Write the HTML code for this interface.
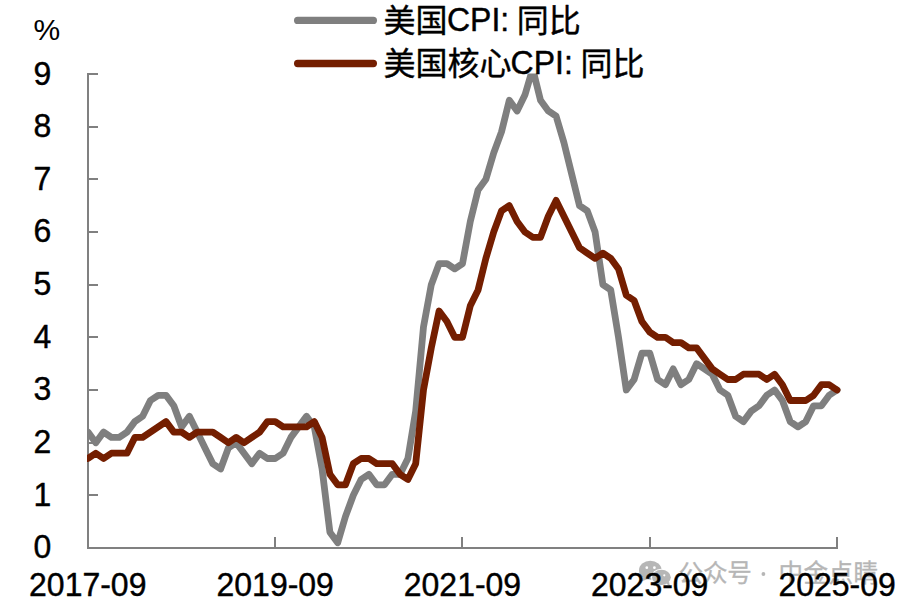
<!DOCTYPE html>
<html lang="zh"><head><meta charset="utf-8"><title>美国CPI: 同比</title>
<style>
html,body{margin:0;padding:0;background:#fff;}
body{width:906px;height:609px;overflow:hidden;font-family:"Liberation Sans",sans-serif;}
svg{display:block;}
</style></head><body>
<svg width="906" height="609" viewBox="0 0 906 609"><defs><clipPath id="plot"><rect x="87" y="73.4" width="780" height="500"/></clipPath></defs>
<g id="wm"><g fill="#b6b6b6"><ellipse cx="650.3" cy="570.3" rx="11.3" ry="9.5"/><path d="M643.0 577.0 L641.4 581.4 L647.8 578.9 Z"/></g><ellipse cx="661.4" cy="577.35" rx="10.5" ry="8.7" fill="#fff"/><g fill="#b6b6b6"><ellipse cx="661.4" cy="577.35" rx="9.4" ry="7.6"/><path d="M666.3 583.4 L670.0 586.4 L669.0 581.6 Z"/></g><g fill="#fff"><circle cx="646.8" cy="567.7" r="1.35"/><circle cx="654.4" cy="567.7" r="1.35"/><circle cx="658.5" cy="575.3" r="1.1"/><circle cx="664.3" cy="575.3" r="1.1"/></g><g font-family="'Liberation Sans', 'Noto Sans CJK SC', sans-serif" font-size="24.6" fill="#b6b6b6" stroke="#b6b6b6" stroke-width="0.3"><text x="678.50" y="582.40">公</text><text x="702.90" y="582.40">众</text><text x="727.30" y="582.40">号</text></g><circle cx="763.4" cy="574.0" r="1.9" fill="#b6b6b6"/><g font-family="'Liberation Sans', 'Noto Sans CJK SC', sans-serif" font-size="24.6" fill="#b6b6b6" stroke="#b6b6b6" stroke-width="0.3"><text x="778.60" y="582.40">中</text><text x="803.60" y="582.40">金</text><text x="828.60" y="582.40">点</text><text x="853.60" y="582.40">睛</text></g></g>
<g id="axes"><path d="M88.0 73.0 V548.0 H838.0" fill="none" stroke="#808080" stroke-width="2"/><path d="M88.0 495 H98.0" stroke="#808080" stroke-width="2"/><path d="M88.0 443 H98.0" stroke="#808080" stroke-width="2"/><path d="M88.0 390 H98.0" stroke="#808080" stroke-width="2"/><path d="M88.0 337 H98.0" stroke="#808080" stroke-width="2"/><path d="M88.0 285 H98.0" stroke="#808080" stroke-width="2"/><path d="M88.0 232 H98.0" stroke="#808080" stroke-width="2"/><path d="M88.0 179 H98.0" stroke="#808080" stroke-width="2"/><path d="M88.0 127 H98.0" stroke="#808080" stroke-width="2"/><path d="M88.0 74 H98.0" stroke="#808080" stroke-width="2"/><path d="M275 548.0 V537.0" stroke="#808080" stroke-width="2"/><path d="M462 548.0 V537.0" stroke="#808080" stroke-width="2"/><path d="M650 548.0 V537.0" stroke="#808080" stroke-width="2"/><path d="M837 548.0 V537.0" stroke="#808080" stroke-width="2"/></g>
<g clip-path="url(#plot)" fill="none" stroke-linejoin="round" stroke-linecap="round" stroke-width="6.8"><polyline stroke="#7f7f7f" points="88.0,432.1 95.8,442.7 103.6,432.1 111.4,437.4 119.2,437.4 127.0,432.1 134.8,421.6 142.6,416.3 150.4,400.5 158.2,395.3 166.0,395.3 173.8,405.8 181.6,426.9 189.4,416.3 197.2,432.1 205.0,447.9 212.8,463.7 220.6,469.0 228.4,447.9 236.2,442.7 244.0,453.2 251.8,463.7 259.6,453.2 267.4,458.5 275.2,458.5 283.1,453.2 290.9,437.4 298.7,426.9 306.5,416.3 314.3,426.9 322.1,469.0 329.9,532.2 337.7,542.7 345.5,516.4 353.3,495.3 361.1,479.5 368.9,474.3 376.7,484.8 384.5,484.8 392.3,474.3 400.1,474.3 407.9,458.5 415.7,411.1 423.5,326.8 431.3,284.7 439.1,263.6 446.9,263.6 454.7,268.9 462.5,263.6 470.3,221.5 478.1,189.9 485.9,179.3 493.7,153.0 501.5,131.9 509.3,100.3 517.1,110.9 524.9,95.1 532.7,68.7 540.5,100.3 548.3,110.9 556.1,116.1 563.9,142.5 571.7,174.1 579.5,205.7 587.3,210.9 595.1,232.0 602.9,284.7 610.7,289.9 618.5,337.3 626.3,390.0 634.1,379.5 641.9,353.1 649.8,353.1 657.6,379.5 665.4,384.7 673.2,368.9 681.0,384.7 688.8,379.5 696.6,363.7 704.4,368.9 712.2,374.2 720.0,390.0 727.8,395.3 735.6,416.3 743.4,421.6 751.2,411.1 759.0,405.8 766.8,395.3 774.6,390.0 782.4,400.5 790.2,421.6 798.0,426.9 805.8,421.6 813.6,405.8 821.4,405.8 829.2,395.3 837.0,390.0"/><polyline stroke="#741e00" points="88.0,458.5 95.8,453.2 103.6,458.5 111.4,453.2 119.2,453.2 127.0,453.2 134.8,437.4 142.6,437.4 150.4,432.1 158.2,426.9 166.0,421.6 173.8,432.1 181.6,432.1 189.4,437.4 197.2,432.1 205.0,432.1 212.8,432.1 220.6,437.4 228.4,442.7 236.2,437.4 244.0,442.7 251.8,437.4 259.6,432.1 267.4,421.6 275.2,421.6 283.1,426.9 290.9,426.9 298.7,426.9 306.5,426.9 314.3,421.6 322.1,437.4 329.9,474.3 337.7,484.8 345.5,484.8 353.3,463.7 361.1,458.5 368.9,458.5 376.7,463.7 384.5,463.7 392.3,463.7 400.1,474.3 407.9,479.5 415.7,463.7 423.5,390.0 431.3,347.9 439.1,311.0 446.9,321.5 454.7,337.3 462.5,337.3 470.3,305.7 478.1,289.9 485.9,258.3 493.7,232.0 501.5,210.9 509.3,205.7 517.1,221.5 524.9,232.0 532.7,237.3 540.5,237.3 548.3,216.2 556.1,200.4 563.9,216.2 571.7,232.0 579.5,247.8 587.3,253.1 595.1,258.3 602.9,253.1 610.7,258.3 618.5,268.9 626.3,295.2 634.1,300.5 641.9,321.5 649.8,332.1 657.6,337.3 665.4,337.3 673.2,342.6 681.0,342.6 688.8,347.9 696.6,347.9 704.4,358.4 712.2,368.9 720.0,374.2 727.8,379.5 735.6,379.5 743.4,374.2 751.2,374.2 759.0,374.2 766.8,379.5 774.6,374.2 782.4,384.7 790.2,400.5 798.0,400.5 805.8,400.5 813.6,395.3 821.4,384.7 829.2,384.7 837.0,390.0"/></g>
<g id="labels" font-family="'Liberation Sans', sans-serif" font-size="32" fill="#000" stroke="#000" stroke-width="0.4" stroke-linejoin="round"><text x="33.6" y="39.6" font-size="30" stroke="none">%</text><text transform="translate(33.40 558.40) scale(1 1.040)" xml:space="preserve">0</text><text transform="translate(33.40 505.73) scale(1 1.040)" xml:space="preserve">1</text><text transform="translate(33.40 453.07) scale(1 1.040)" xml:space="preserve">2</text><text transform="translate(33.40 400.40) scale(1 1.040)" xml:space="preserve">3</text><text transform="translate(33.40 347.73) scale(1 1.040)" xml:space="preserve">4</text><text transform="translate(33.40 295.07) scale(1 1.040)" xml:space="preserve">5</text><text transform="translate(33.40 242.40) scale(1 1.040)" xml:space="preserve">6</text><text transform="translate(33.40 189.73) scale(1 1.040)" xml:space="preserve">7</text><text transform="translate(33.40 137.07) scale(1 1.040)" xml:space="preserve">8</text><text transform="translate(33.40 85.30) scale(1 1.040)" xml:space="preserve">9</text><text transform="translate(29.08 595.50) scale(1 1.040)" xml:space="preserve">2017-09</text><text transform="translate(216.53 595.50) scale(1 1.040)" xml:space="preserve">2019-09</text><text transform="translate(403.78 595.50) scale(1 1.040)" xml:space="preserve">2021-09</text><text transform="translate(591.03 595.50) scale(1 1.040)" xml:space="preserve">2023-09</text><text transform="translate(778.38 595.50) scale(1 1.040)" xml:space="preserve">2025-09</text></g>
<g id="legend" fill="#000"><path d="M297.7 20.4 H373.3" stroke="#7f7f7f" stroke-width="7.4" stroke-linecap="round"/><path d="M297.7 63.45 H373.3" stroke="#741e00" stroke-width="7.4" stroke-linecap="round"/><g font-family="'Liberation Sans', 'Noto Sans CJK SC', sans-serif" font-size="32" stroke="#000" stroke-width="0.4" stroke-linejoin="round"><text x="383.55" y="31.5">美国</text><text transform="translate(447.00 31.00) scale(1 1.040)" xml:space="preserve">CPI: </text><text x="516.63" y="31.5">同比</text><text x="383.55" y="74.5">美国核心</text><text transform="translate(510.60 74.00) scale(1 1.040)" xml:space="preserve">CPI: </text><text x="580.42" y="74.5">同比</text></g></g></svg>
</body></html>
